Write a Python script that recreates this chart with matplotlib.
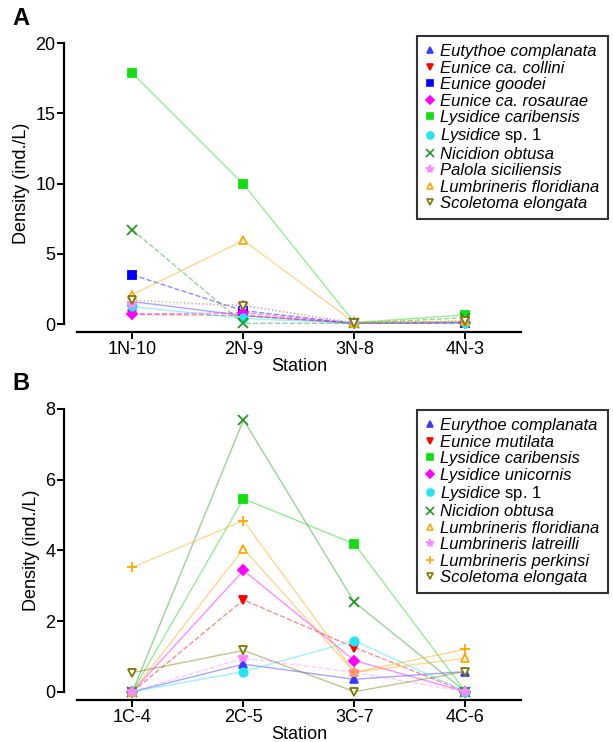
import numpy as np
import matplotlib as mpl
mpl.use('Agg')
import matplotlib.pyplot as plt
from matplotlib.lines import Line2D

plt.rcParams['font.family'] = ['Liberation Sans', 'DejaVu Sans']
plt.rcParams['mathtext.fontset'] = 'custom'
plt.rcParams['mathtext.rm'] = 'Liberation Sans'
plt.rcParams['mathtext.it'] = 'Liberation Sans:italic'

# ---- data (ind./L) ----
stations_a = ['1N-10', '2N-9', '3N-8', '4N-3']
species_a = ['Eutythoe complanata', 'Eunice ca. collini', 'Eunice goodei',
             'Eunice ca. rosaurae', 'Lysidice caribensis', 'Lysidice sp. 1',
             'Nicidion obtusa', 'Palola siciliensis', 'Lumbrineris floridiana',
             'Scoletoma elongata']
eutythoe_a = [1.6, 0.6, 0.05, 0.1]
collini_a = [0.7, 0.6, 0.05, 0.1]
goodei_a = [3.5, 0.95, 0.05, 0.1]
rosaurae_a = [0.7, 0.8, 0.05, 0.1]
caribensis_a = [17.85, 9.95, 0.1, 0.65]
lysidice_sp_a = [1.25, 0.4, 0.05, 0.1]
nicidion_a = [6.7, 0.05, 0.05, 0.45]
palola_a = [1.45, 1.35, 0.05, 0.2]
floridiana_a = [2.1, 5.95, 0.1, 0.2]
scoletoma_a = [1.7, 1.3, 0.1, 0.2]

stations_b = ['1C-4', '2C-5', '3C-7', '4C-6']
species_b = ['Eurythoe complanata', 'Eunice mutilata', 'Lysidice caribensis',
             'Lysidice unicornis', 'Lysidice sp. 1', 'Nicidion obtusa',
             'Lumbrineris floridiana', 'Lumbrineris latreilli',
             'Lumbrineris perkinsi', 'Scoletoma elongata']
eurythoe_b = [0.0, 0.78, 0.35, 0.57]
mutilata_b = [0.0, 2.6, 1.25, 0.0]
caribensis_b = [0.0, 5.46, 4.18, 0.0]
unicornis_b = [0.0, 3.43, 0.88, 0.0]
lysidice_sp_b = [0.0, 0.57, 1.44, 0.0]
nicidion_b = [0.0, 7.69, 2.53, 0.0]
floridiana_b = [0.0, 4.04, 0.55, 0.95]
latreilli_b = [0.0, 0.95, 0.55, 0.0]
perkinsi_b = [3.52, 4.84, 0.55, 1.2]
scoletoma_b = [0.54, 1.17, 0.0, 0.57]

# marker, colour, filled, line style
sty_a = [('^', '#3b3bff', True, '-'), ('v', '#ff0000', True, '--'),
         ('s', '#0000ff', True, '--'), ('D', '#ff00ff', True, '--'),
         ('s', '#11dd11', True, '-'), ('o', '#22e5f0', True, '-'),
         ('x', '#229922', True, '--'), ('*', '#ff88ff', True, ':'),
         ('^', '#ffa500', False, '-'), ('v', '#7a7a00', False, ':')]
sty_b = [('^', '#3b3bff', True, '-'), ('v', '#ff0000', True, '--'),
         ('s', '#11dd11', True, '-'), ('D', '#ff00ff', True, '-'),
         ('o', '#22e5f0', True, '-'), ('x', '#229922', True, '-'),
         ('^', '#ffa500', False, '-'), ('*', '#ff88ff', True, '--'),
         ('+', '#ffa500', True, '-'), ('v', '#7a7a00', False, '-')]

vals_a = [eutythoe_a, collini_a, goodei_a, rosaurae_a, caribensis_a,
          lysidice_sp_a, nicidion_a, palola_a, floridiana_a, scoletoma_a]
vals_b = [eurythoe_b, mutilata_b, caribensis_b, unicornis_b, lysidice_sp_b,
          nicidion_b, floridiana_b, latreilli_b, perkinsi_b, scoletoma_b]

fig = plt.figure(figsize=(6.13, 7.42), dpi=100)
ax_a = fig.add_axes([0.1256, 0.5633, 0.7243, 0.3787])
ax_b = fig.add_axes([0.1256, 0.0678, 0.7243, 0.3810])


def draw(ax, stations, species, vals, sty, ymax, ystep):
    x = np.arange(len(stations))
    handles = []
    for name, v, (m, c, filled, ls) in zip(species, vals, sty):
        mfc = c if filled else 'white'
        ms = 7 if m in ('x', '+', '*') else 6
        if m == 'D':
            ms = 5
        ax.plot(x, v, ls=ls, color=c, alpha=0.45, lw=1.0, clip_on=False)
        ax.plot(x, v, ls='none', marker=m, color=c, mfc=mfc, mec=c,
                ms=ms, mew=1.3, clip_on=False, zorder=3)
        if name.endswith('sp. 1'):
            name = r'$\it{Lysidice}$ sp. 1'
        handles.append(Line2D([], [], ls='none', marker=m, color=c, mfc=mfc,
                              mec=c, ms=ms - 1, mew=1.2, label=name))
    ax.set_xlim(-0.5, len(stations) - 0.5)
    ax.set_ylim(0, ymax)
    ax.set_xticks(x)
    ax.set_xticklabels(stations)
    ax.set_yticks(np.arange(0, ymax + 0.1, ystep))
    ax.spines['top'].set_visible(False)
    ax.spines['right'].set_visible(False)
    ax.spines['left'].set_position(('outward', 9))
    ax.spines['bottom'].set_position(('outward', 6))
    for s in ('left', 'bottom'):
        ax.spines[s].set_linewidth(1.6)
    ax.tick_params(width=1.4, length=5, labelsize=13, pad=1.5)
    ax.set_xlabel('Station', fontsize=13, labelpad=0)
    ax.set_ylabel('Density (ind./L)', fontsize=13, labelpad=4)
    return handles


h_a = draw(ax_a, stations_a, species_a, vals_a, sty_a, 20, 5)
h_b = draw(ax_b, stations_b, species_b, vals_b, sty_b, 8, 2)

for h, top in ((h_a, 0.9515), (h_b, 0.4475)):
    leg = fig.legend(handles=h, loc='upper left', bbox_to_anchor=(0.680, top),
                     prop={'style': 'italic', 'size': 12},
                     handlelength=0.6, handletextpad=0.3, labelspacing=0.085,
                     borderpad=0.5, borderaxespad=0, frameon=True,
                     fancybox=False, edgecolor='black')
    leg.get_frame().set_linewidth(1.5)
    for t in leg.get_texts():
        if 'sp. 1' in t.get_text():
            t.set_fontstyle('normal')

fig.text(0.02, 0.975, 'A', fontsize=17, fontweight='bold', va='center')
fig.text(0.02, 0.483, 'B', fontsize=17, fontweight='bold', va='center')

fig.savefig('out.png', dpi=100)
